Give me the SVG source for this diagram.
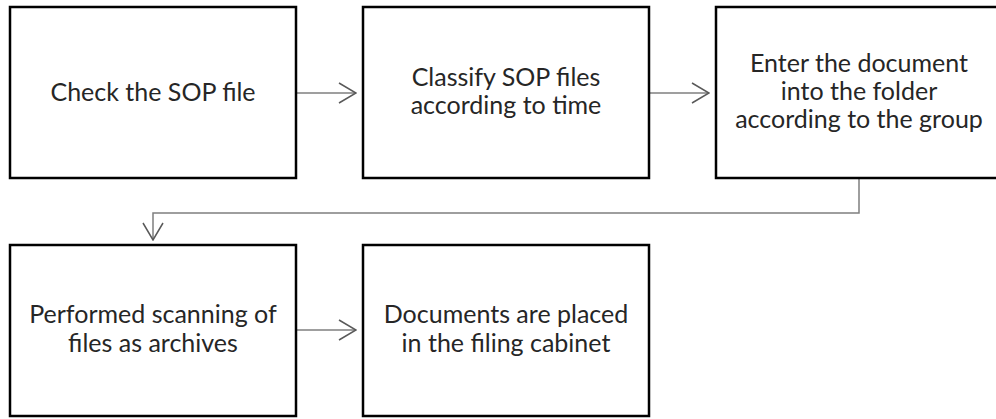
<svg xmlns="http://www.w3.org/2000/svg" width="996" height="419" viewBox="0 0 996 419">
  <defs>
    <style>
      .box { fill: #ffffff; stroke: #000000; stroke-width: 2.5; }
      .lbl { font-family: Lato, "Liberation Sans", sans-serif; font-size: 25px; fill: #262626; text-anchor: middle; }
      .conn { fill: none; stroke: #7f7f7f; stroke-width: 1.5; }
    </style>
    <marker id="open-arrow" viewBox="0 0 20 22" refX="19" refY="11" markerWidth="20" markerHeight="22" markerUnits="userSpaceOnUse" orient="auto">
      <path d="M2,1 L19,11 L2,21" fill="none" stroke="#595959" stroke-width="1.5"/>
    </marker>
  </defs>
  <rect width="996" height="419" fill="#ffffff"/>

  <g id="connectors">
    <line class="conn" x1="296" y1="93" x2="356" y2="93" marker-end="url(#open-arrow)"/>
    <line class="conn" x1="649" y1="93" x2="709" y2="93" marker-end="url(#open-arrow)"/>
    <polyline class="conn" points="859,178 859,213 153,213 153,240" marker-end="url(#open-arrow)"/>
    <line class="conn" x1="296" y1="330" x2="356" y2="330" marker-end="url(#open-arrow)"/>
  </g>

  <g id="check-sop">
    <rect class="box" x="10" y="7" width="286" height="171"/>
    <text class="lbl" x="153" y="101">Check the SOP file</text>
  </g>

  <g id="classify-sop">
    <rect class="box" x="363" y="7" width="286" height="171"/>
    <text class="lbl" x="506" y="86">Classify SOP files</text>
    <text class="lbl" x="506" y="114">according to time</text>
  </g>

  <g id="enter-folder">
    <rect class="box" x="716" y="7" width="286" height="171"/>
    <text class="lbl" x="859" y="72">Enter the document</text>
    <text class="lbl" x="859" y="100">into the folder</text>
    <text class="lbl" x="859" y="128">according to the group</text>
  </g>

  <g id="scan-archives">
    <rect class="box" x="10" y="245" width="286" height="171"/>
    <text class="lbl" x="153" y="323">Performed scanning of</text>
    <text class="lbl" x="153" y="352">files as archives</text>
  </g>

  <g id="filing-cabinet">
    <rect class="box" x="363" y="245" width="286" height="171"/>
    <text class="lbl" x="506" y="323">Documents are placed</text>
    <text class="lbl" x="506" y="352">in the filing cabinet</text>
  </g>
</svg>
